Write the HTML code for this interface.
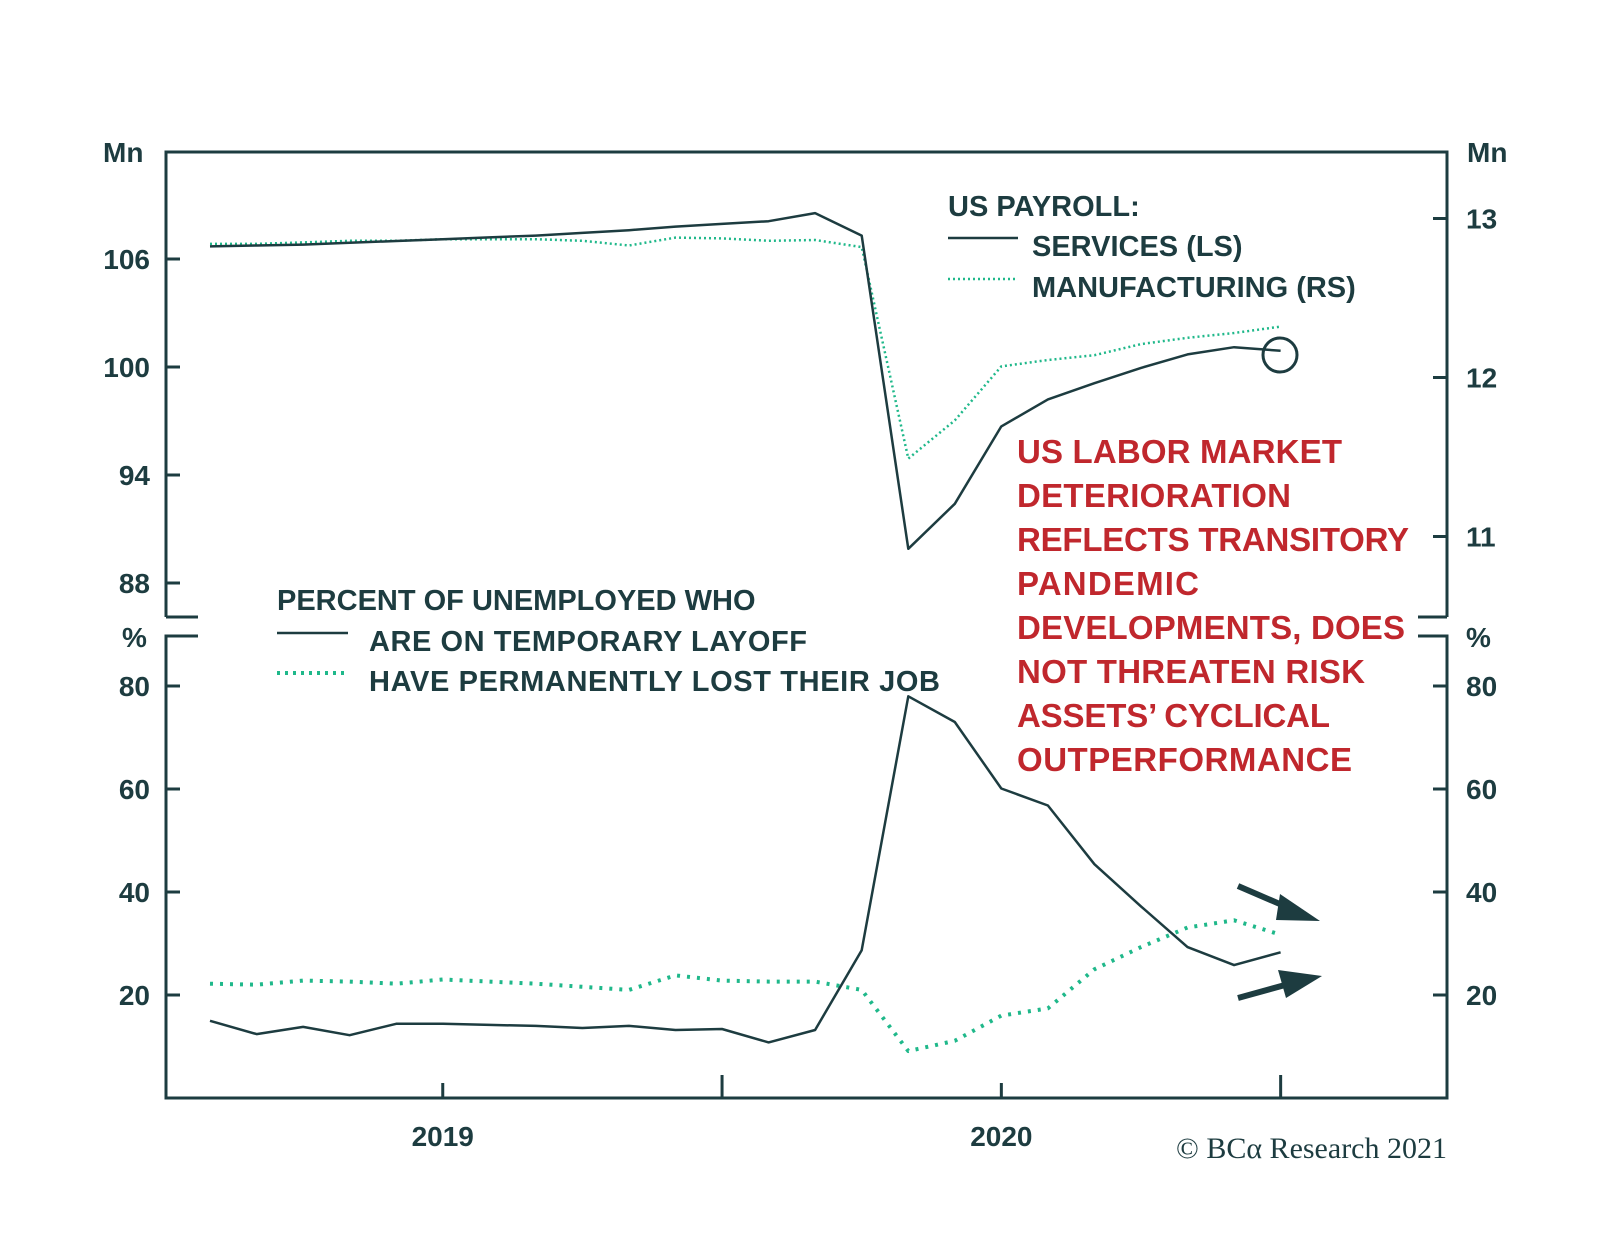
<!DOCTYPE html>
<html><head><meta charset="utf-8"><style>
html,body{margin:0;padding:0;background:#fff;}
svg{display:block;font-family:"Liberation Sans",sans-serif;}
.tk{font-size:28px;font-weight:bold;fill:#1d3c40;}
.lg{font-size:29px;font-weight:bold;fill:#1d3c40;}
.rd{font-size:33px;font-weight:bold;fill:#c0272d;}
</style></head><body>
<svg id="chart" width="1600" height="1246" viewBox="0 0 1600 1246" xmlns="http://www.w3.org/2000/svg">
<g id="frame" stroke="#1d3c40" stroke-width="3" fill="none">
<path d="M166,617 L166,152 L1447,152 L1447,617"/>
<path d="M166,617 L198,617 M1447,617 L1418,617"/>
<path d="M198,636 L166,636 L166,1098 L1447,1098 L1447,636 L1418,636"/>
</g>
<g id="axes"></g>
<g id="series"></g>
<g>
<text class="lg" x="948" y="216">US PAYROLL:</text>
<line x1="948" y1="238" x2="1018" y2="238" stroke="#1d3c40" stroke-width="2.5"/>
<text class="lg" x="1032" y="256">SERVICES (LS)</text>
<line x1="948" y1="279" x2="1018" y2="279" stroke="#1fb88a" stroke-width="2.5" stroke-dasharray="2,3"/>
<text class="lg" x="1032" y="297">MANUFACTURING (RS)</text>
</g>
<g>
<text class="lg" x="277" y="610">PERCENT OF UNEMPLOYED WHO</text>
<line x1="277" y1="633" x2="348" y2="633" stroke="#1d3c40" stroke-width="2.5"/>
<text class="lg" x="369" y="651" textLength="438">ARE ON TEMPORARY LAYOFF</text>
<line x1="277" y1="673" x2="348" y2="673" stroke="#1fb88a" stroke-width="4" stroke-dasharray="3,5"/>
<text class="lg" x="369" y="691" textLength="571">HAVE PERMANENTLY LOST THEIR JOB</text>
</g>
<g>
<text class="rd" x="1017" y="463" textLength="325">US LABOR MARKET</text>
<text class="rd" x="1017" y="507" textLength="274">DETERIORATION</text>
<text class="rd" x="1017" y="551" textLength="392">REFLECTS TRANSITORY</text>
<text class="rd" x="1017" y="595" textLength="182">PANDEMIC</text>
<text class="rd" x="1017" y="639" textLength="388">DEVELOPMENTS, DOES</text>
<text class="rd" x="1017" y="683" textLength="348">NOT THREATEN RISK</text>
<text class="rd" x="1017" y="727" textLength="313">ASSETS’ CYCLICAL</text>
<text class="rd" x="1017" y="771" textLength="335">OUTPERFORMANCE</text>
</g>
<circle cx="1280" cy="355" r="17" fill="none" stroke="#1d3c40" stroke-width="3"/>
<g fill="#1d3c40" stroke="#1d3c40">
<line x1="1238" y1="886" x2="1296" y2="911" stroke-width="6"/>
<polygon points="1320,921 1280,894 1276,920" stroke="none"/>
<line x1="1238" y1="998" x2="1296" y2="982" stroke-width="6"/>
<polygon points="1322,976 1278,970 1286,998" stroke="none"/>
</g>
<text x="1447" y="1158" text-anchor="end" font-family="'Liberation Serif',serif" font-size="30" fill="#1d3c40">© BCα Research 2021</text>
</svg>
<script>
const services=[106.7,106.75,106.8,106.9,107.0,107.1,107.2,107.3,107.45,107.6,107.8,107.95,108.1,108.55,107.3,89.9,92.4,96.7,98.2,99.1,99.95,100.7,101.1,100.9];
const manufacturing=[12.84,12.84,12.85,12.86,12.86,12.87,12.87,12.87,12.86,12.83,12.88,12.875,12.86,12.865,12.82,11.49,11.73,12.07,12.11,12.14,12.21,12.25,12.28,12.32];
const temporary=[15.0,12.4,13.8,12.2,14.4,14.4,14.2,14.0,13.6,14.0,13.2,13.4,10.8,13.2,28.7,78.0,73.0,60.1,56.8,45.4,37.2,29.3,25.8,28.3];
const permanent=[22.2,22.0,22.8,22.6,22.2,23.0,22.6,22.2,21.6,21.0,23.8,22.8,22.6,22.6,21.0,9.1,11.1,16.0,17.4,25.0,29.3,33.1,34.5,31.7];
const leftTicks=[106,100,94,88];
const rightTicks=[13,12,11];
const pctTicks=[80,60,40,20];
const yearLabels=["2019","2020"];
const yearIdx=[5,17];
const xTickIdx=[5,11,17,23];

const NS="http://www.w3.org/2000/svg";
const xS=i=>210+46.55*i;
const yL=v=>259+(106-v)*18;
const yR=v=>218.5+(13-v)*159;
const yP=v=>1098-v*5.15;
function mk(tag,attrs,parent,txt){const e=document.createElementNS(NS,tag);for(const k in attrs)e.setAttribute(k,attrs[k]);if(txt!==undefined)e.textContent=txt;parent.appendChild(e);return e;}
const ax=document.getElementById('axes');
const C="#1d3c40";
leftTicks.forEach(v=>{
 const l=mk('line',{x1:166,x2:180,y1:yL(v),y2:yL(v),stroke:C,'stroke-width':3},ax);
 
 
 const t=mk('text',{x:150,y:yL(v)+10,'text-anchor':'end',class:'tk'},ax,String(v));
 
 
});
rightTicks.forEach(v=>{
 const l=mk('line',{x1:1433,x2:1447,y1:yR(v),y2:yR(v),stroke:C,'stroke-width':3},ax);
 
 
 const t=mk('text',{x:1466,y:yR(v)+10,class:'tk'},ax,String(v));
 
 
});
pctTicks.forEach(v=>{
 const l=mk('line',{x1:166,x2:180,y1:yP(v),y2:yP(v),stroke:C,'stroke-width':3},ax);
 
 
 const t=mk('text',{x:150,y:yP(v)+10,'text-anchor':'end',class:'tk'},ax,String(v));
 
 
 const l2=mk('line',{x1:1433,x2:1447,y1:yP(v),y2:yP(v),stroke:C,'stroke-width':3},ax);
 
 
 const t2=mk('text',{x:1466,y:yP(v)+10,class:'tk'},ax,String(v));
 
 
});
xTickIdx.forEach((i,k)=>{
 const l=mk('line',{x1:xS(i),x2:xS(i),y1:1098,y2:(k%2?1075:1083),stroke:C,'stroke-width':3},ax);
 
 
});
yearLabels.forEach((s,k)=>{
 const t=mk('text',{x:xS(yearIdx[k]),y:1146,'text-anchor':'middle',class:'tk'},ax,s);
 
 
});
[[103,162,'Mn'],[1467,162,'Mn'],[122,647,'%'],[1466,647,'%']].forEach(a=>{
 const t=mk('text',{x:a[0],y:a[1],class:'tk','font-size':'29'},ax,a[2]);
 
 
});
const sg=document.getElementById('series');
function line(arr,ys,stroke,w,dash,name){
 const d=arr.map((v,i)=>(i?'L':'M')+xS(i).toFixed(1)+','+ys(v).toFixed(1)).join(' ');
 const p=mk('path',{d:d,fill:'none',stroke:stroke,'stroke-width':w,'stroke-linejoin':'round'},sg);
 if(dash)p.setAttribute('stroke-dasharray',dash);
 
 
}
line(manufacturing,yR,'#1fb88a',2.5,'2,3','manufacturing-line');
line(services,yL,C,2.5,null,'services-line');
line(permanent,yP,'#1fb88a',4,'3,7','permanent-line');
line(temporary,yP,C,2.5,null,'temporary-line');
</script>
</body></html>
